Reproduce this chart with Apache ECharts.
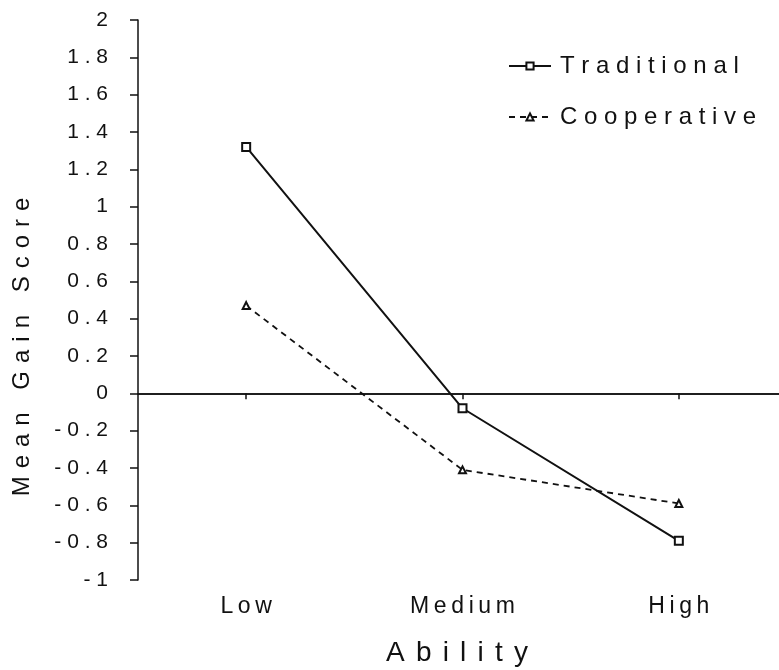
<!DOCTYPE html>
<html>
<head>
<meta charset="utf-8">
<title>Mean Gain Score by Ability</title>
<script src="https://cdn.jsdelivr.net/npm/echarts@6/dist/echarts.min.js"></script>
<style>
  html, body { margin: 0; padding: 0; background: #fff; }
  #chart { width: 779px; height: 670px; }
</style>
</head>
<body>
<div id="chart"></div>
<script>
// Ability groups along the horizontal axis
const categories = ['Low', 'Medium', 'High'];

// Mean gain scores per teaching method
const traditional = [1.32, -0.08, -0.79];
const cooperative = [0.47, -0.41, -0.59];

// Value axis tick labels, bottom to top
const yTickLabels = ['-1', '-0.8', '-0.6', '-0.4', '-0.2', '0', '0.2', '0.4',
  '0.6', '0.8', '1', '1.2', '1.4', '1.6', '1.8', '2'];

const seriesNames = ['Traditional', 'Cooperative'];
const xTitle = 'Ability';
const yTitle = 'Mean Gain Score';

// Wide, typewriter-like letter spacing
function spaced(text, sep) {
  return Array.from(text).join(sep);
}

// Pick the tick label whose number equals the tick value
function yLabelFor(value) {
  const hit = yTickLabels.find(s => Math.abs(parseFloat(s) - value) < 1e-6);
  return hit === undefined ? '' : hit;
}

const FONT = '"Liberation Sans", Arial, sans-serif';
const INK = '#111';

const chart = echarts.init(document.getElementById('chart'), null, { renderer: 'canvas' });

chart.setOption({
  backgroundColor: '#fff',
  animation: false,
  textStyle: { fontFamily: FONT, color: INK },
  // the plot area runs a little past the right edge of the canvas
  grid: { left: 138, width: 649, top: 20, bottom: 90, containLabel: false, outerBoundsMode: 'none' },
  legend: {
    orient: 'vertical',
    left: 503,
    top: 49,
    itemWidth: 42,
    itemHeight: 9,
    itemGap: 27,
    data: seriesNames,
    formatter: name => spaced(name, ' '),
    textStyle: { fontFamily: FONT, fontSize: 24, color: INK, padding: [0, 0, 0, 4] }
  },
  xAxis: {
    type: 'category',
    data: categories,
    boundaryGap: true,
    axisLine: { show: true, lineStyle: { color: INK, width: 1.5 } },
    axisTick: { show: true, alignWithLabel: true, inside: false, length: 6, lineStyle: { color: INK, width: 1.5 } },
    axisLabel: {
      margin: 15,
      fontSize: 23,
      color: INK,
      fontFamily: FONT,
      formatter: v => spaced(v, '\u2009')
    },
    splitLine: { show: false }
  },
  yAxis: {
    type: 'value',
    min: -1,
    max: 2,
    interval: 0.2,
    axisLine: { show: true, lineStyle: { color: INK, width: 1.5 } },
    axisTick: { show: true, inside: false, length: 8, lineStyle: { color: INK, width: 1.5 } },
    axisLabel: {
      margin: 30,
      align: 'right',
      color: INK,
      formatter: v => '{t|' + spaced(yLabelFor(v), ' ') + '}',
      rich: {
        t: { width: 60, align: 'right', fontSize: 21, fontFamily: FONT, color: INK }
      }
    },
    splitLine: { show: false }
  },
  graphic: [
    {
      type: 'text',
      x: 457,
      y: 653,
      style: {
        text: spaced(xTitle, '\u2009\u2009'),
        fontSize: 28,
        fontFamily: FONT,
        fill: INK,
        align: 'center',
        verticalAlign: 'middle'
      }
    },
    {
      type: 'text',
      x: 22,
      y: 347,
      rotation: Math.PI / 2,
      style: {
        text: spaced(yTitle, '\u2006\u2006'),
        fontSize: 24,
        fontFamily: FONT,
        fill: INK,
        align: 'center',
        verticalAlign: 'middle'
      }
    }
  ],
  series: [
    {
      name: seriesNames[0],
      type: 'line',
      data: traditional,
      symbol: 'emptyRect',
      symbolSize: 8,
      itemStyle: { color: INK, borderColor: INK, borderWidth: 1.5 },
      lineStyle: { color: INK, width: 2, type: 'solid' },
      markLine: {
        silent: true,
        symbol: ['none', 'none'],
        label: { show: false },
        lineStyle: { color: INK, width: 1.5, type: 'solid' },
        data: [{ yAxis: 0 }]
      },
      z: 3
    },
    {
      name: seriesNames[1],
      type: 'line',
      data: cooperative,
      symbol: 'emptyTriangle',
      symbolSize: 7,
      itemStyle: { color: INK, borderColor: INK, borderWidth: 1.5 },
      lineStyle: { color: INK, width: 1.8, type: [6, 5] },
      z: 2
    }
  ]
});
</script>
</body>
</html>
